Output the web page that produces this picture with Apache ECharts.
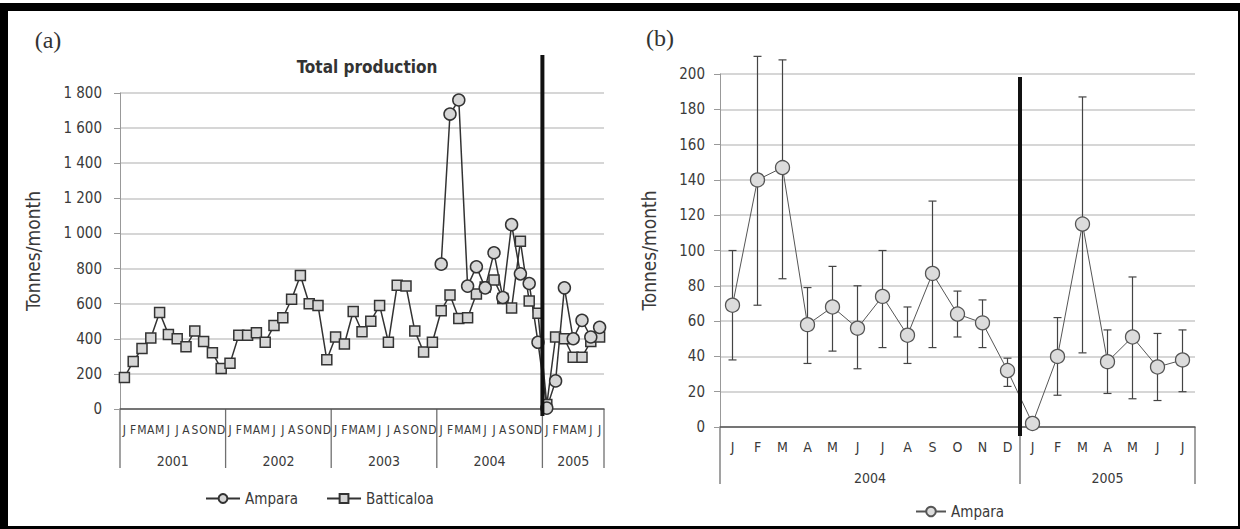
<!DOCTYPE html>
<html>
<head>
<meta charset="utf-8">
<title>Total production</title>
<script src="https://cdn.jsdelivr.net/npm/echarts@6/dist/echarts.min.js"></script>
<style>
  html, body { margin: 0; padding: 0; background: #fff; }
  .page { position: relative; width: 1240px; height: 529px; overflow: hidden; }
  #chartA { position: absolute; left: 0; top: 0; width: 620px; height: 529px; }
  #chartB { position: absolute; left: 620px; top: 0; width: 620px; height: 529px; }
  .frame {
    position: absolute; left: 0; top: 3px; width: 1240px; height: 526px;
    box-sizing: border-box; border-style: solid; border-color: #000;
    border-width: 8px 2px 3px 8px; pointer-events: none;
  }
</style>
</head>
<body>
<div class="page">
  <div id="chartA"></div>
  <div id="chartB"></div>
  <div class="frame"></div>
</div>
<script>
  // (a) total production, Jan 2001 - Jul 2005
  const monthsA = [
    'J','F','M','A','M','J','J','A','S','O','N','D',
    'J','F','M','A','M','J','J','A','S','O','N','D',
    'J','F','M','A','M','J','J','A','S','O','N','D',
    'J','F','M','A','M','J','J','A','S','O','N','D',
    'J','F','M','A','M','J','J'
  ];
  const yearsA = ['2001', '2002', '2003', '2004', '2005'];
  const yearLenA = [12, 12, 12, 12, 7];
  const batticaloa = [
    180, 270, 345, 405, 550, 425, 400, 355, 445, 385, 320, 230,
    260, 420, 420, 435, 380, 475, 520, 625, 760, 600, 590, 280,
    410, 370, 555, 440, 500, 590, 380, 705, 700, 445, 325, 380,
    560, 650, 515, 520, 655, 695, 735, 630, 575, 955, 615, 545,
    25, 410, 400, 295, 295, 385, 410
  ];
  const ampara = [
    null, null, null, null, null, null, null, null, null, null, null, null,
    null, null, null, null, null, null, null, null, null, null, null, null,
    null, null, null, null, null, null, null, null, null, null, null, null,
    825, 1680, 1760, 700, 810, 690, 890, 635, 1050, 770, 715, 380,
    5, 160, 690, 400, 505, 410, 465
  ];

  // (b) Ampara, mean with error bars, Jan 2004 - Jul 2005
  const monthsB = ['J','F','M','A','M','J','J','A','S','O','N','D','J','F','M','A','M','J','J'];
  const yearsB = ['2004', '2005'];
  const yearLenB = [12, 7];
  const amparaB = [69, 140, 147, 58, 68, 56, 74, 52, 87, 64, 59, 32, 2, 40, 115, 37, 51, 34, 38];
  const amparaLow = [38, 69, 84, 36, 43, 33, 45, 36, 45, 51, 45, 23, null, 18, 42, 19, 16, 15, 20];
  const amparaHigh = [100, 210, 208, 79, 91, 80, 100, 68, 128, 77, 72, 39, null, 62, 187, 55, 85, 53, 55];

  const FONT = '"Liberation Sans Narrow", "DejaVu Sans Condensed", "Liberation Sans", sans-serif';
  const TXT = '#3a3a3a';

  // year separators, year labels, and the thick tsunami line
  function addMarks(chart, years, yearLen, o) {
    const p0 = chart.convertToPixel({ xAxisIndex: 0 }, 0);
    const p1 = chart.convertToPixel({ xAxisIndex: 0 }, 1);
    const step = p1 - p0;
    const edge = i => p0 - step / 2 + i * step;
    const els = [];
    let start = 0;
    for (let k = 0; k <= years.length; k++) {
      els.push({
        type: 'line', silent: true,
        shape: { x1: edge(start), y1: o.axisY, x2: edge(start), y2: o.sepY },
        style: { stroke: '#707070', lineWidth: 1.3 }
      });
      if (k < years.length) {
        els.push({
          type: 'text', silent: true,
          style: {
            text: years[k], x: edge(start + yearLen[k] / 2), y: o.yearY,
            textAlign: 'center', textVerticalAlign: 'middle', align: 'center', verticalAlign: 'middle',
            fontFamily: FONT, fontSize: o.yearSize, fill: TXT
          }
        });
        start += yearLen[k];
      }
    }
    const xt = edge(o.breakAt);
    els.push({
      type: 'line', silent: true, z: 100,
      shape: { x1: xt, y1: o.breakTop, x2: xt, y2: o.breakBottom },
      style: { stroke: '#111', lineWidth: 4 }
    });
    els.push({
      type: 'text', silent: true,
      style: {
        text: o.tag, x: o.tagX, y: o.tagY,
        textAlign: 'center', textVerticalAlign: 'middle', align: 'center', verticalAlign: 'middle',
        fontFamily: '"Liberation Serif", serif', fontSize: 24, fill: '#333'
      }
    });
    chart.setOption({ graphic: { elements: els } });
  }

  function yLabel(v) {
    if (v >= 1000) return Math.floor(v / 1000) + ' ' + String(v % 1000).padStart(3, '0');
    return String(v);
  }

  let chartA = echarts.init(document.getElementById('chartA'), null, { renderer: 'svg' });
  let optA = {
    animation: false,
    title: {
      text: 'Total production', left: 362, top: 53, textAlign: 'center',
      textStyle: { fontFamily: FONT, fontSize: 17, fontWeight: 'bold', color: '#333' }
    },
    legend: {
      data: ['Ampara', 'Batticaloa'], left: 200, top: 486,
      itemWidth: 34, itemHeight: 11, itemGap: 28,
      textStyle: { fontFamily: FONT, fontSize: 15, color: TXT }
    },
    grid: { left: 120, top: 93, width: 484, height: 316 },
    xAxis: {
      type: 'category', data: monthsA, boundaryGap: true,
      axisLine: { lineStyle: { color: '#555', width: 1.5 } },
      axisTick: { show: false },
      axisLabel: { interval: 0, margin: 15, fontFamily: FONT, fontSize: 12, color: TXT }
    },
    yAxis: {
      type: 'value', min: 0, max: 1800, interval: 200,
      name: 'Tonnes/month', nameLocation: 'middle', nameGap: 78, nameRotate: 90,
      nameTextStyle: { fontFamily: FONT, fontSize: 19, color: TXT },
      axisLine: { show: true, lineStyle: { color: '#999' } },
      axisTick: { show: true, length: 6, lineStyle: { color: '#999' } },
      axisLabel: { margin: 18, fontFamily: FONT, fontSize: 15, color: TXT, formatter: yLabel },
      splitLine: { lineStyle: { color: '#c8c8c8', width: 1.5 } }
    },
    series: [
      {
        name: 'Batticaloa', type: 'line', data: batticaloa,
        symbol: 'rect', symbolSize: 10, showAllSymbol: true,
        lineStyle: { color: '#333', width: 1.5 },
        itemStyle: { color: '#d6d6d6', borderColor: '#333', borderWidth: 1.5 }
      },
      {
        name: 'Ampara', type: 'line', data: ampara,
        symbol: 'circle', symbolSize: 12, showAllSymbol: true,
        lineStyle: { color: '#333', width: 1.5 },
        itemStyle: { color: '#d6d6d6', borderColor: '#333', borderWidth: 1.5 }
      }
    ]
  };
  chartA.setOption(optA);
  addMarks(chartA, yearsA, yearLenA, {
    axisY: 409, sepY: 468, yearY: 461, yearSize: 14,
    breakAt: 48, breakTop: 55, breakBottom: 416,
    tag: '(a)', tagX: 48, tagY: 40
  });

  let chartB = echarts.init(document.getElementById('chartB'), null, { renderer: 'svg' });
  let errData = [];
  amparaLow.forEach((lo, i) => {
    if (lo != null) errData.push([i, lo, amparaHigh[i]]);
  });
  let optB = {
    animation: false,
    legend: {
      data: ['Ampara'], left: 290, top: 499,
      itemWidth: 30, itemHeight: 12,
      textStyle: { fontFamily: FONT, fontSize: 15, color: TXT }
    },
    grid: { left: 100, top: 74, width: 475, height: 353 },
    xAxis: {
      type: 'category', data: monthsB, boundaryGap: true,
      axisLine: { lineStyle: { color: '#555', width: 1.5 } },
      axisTick: { show: false },
      axisLabel: { interval: 0, margin: 13, fontFamily: FONT, fontSize: 14, color: TXT }
    },
    yAxis: {
      type: 'value', min: 0, max: 200, interval: 20,
      name: 'Tonnes/month', nameLocation: 'middle', nameGap: 62, nameRotate: 90,
      nameTextStyle: { fontFamily: FONT, fontSize: 19, color: TXT },
      axisLine: { show: true, lineStyle: { color: '#999' } },
      axisTick: { show: true, length: 6, lineStyle: { color: '#999' } },
      axisLabel: { margin: 15, fontFamily: FONT, fontSize: 15, color: TXT },
      splitLine: { lineStyle: { color: '#c8c8c8', width: 1.5 } }
    },
    series: [
      {
        name: 'range', type: 'custom', data: errData, clip: false, z: 2,
        encode: { x: 0, y: [1, 2] },
        renderItem: function (params, api) {
          let top = api.coord([api.value(0), api.value(2)]);
          let bot = api.coord([api.value(0), api.value(1)]);
          let cap = 4;
          let st = { stroke: '#444', lineWidth: 1.2 };
          return {
            type: 'group',
            children: [
              { type: 'line', shape: { x1: top[0], y1: top[1], x2: bot[0], y2: bot[1] }, style: st },
              { type: 'line', shape: { x1: top[0] - cap, y1: top[1], x2: top[0] + cap, y2: top[1] }, style: st },
              { type: 'line', shape: { x1: bot[0] - cap, y1: bot[1], x2: bot[0] + cap, y2: bot[1] }, style: st }
            ]
          };
        }
      },
      {
        name: 'Ampara', type: 'line', data: amparaB, z: 5,
        symbol: 'circle', symbolSize: 14, showAllSymbol: true,
        lineStyle: { color: '#555', width: 1 },
        itemStyle: { color: '#dcdcdc', borderColor: '#555', borderWidth: 1.3 }
      }
    ]
  };
  chartB.setOption(optB);
  addMarks(chartB, yearsB, yearLenB, {
    axisY: 427, sepY: 484, yearY: 478, yearSize: 14,
    breakAt: 12, breakTop: 77, breakBottom: 436,
    tag: '(b)', tagX: 40, tagY: 38
  });
</script>
</body>
</html>
